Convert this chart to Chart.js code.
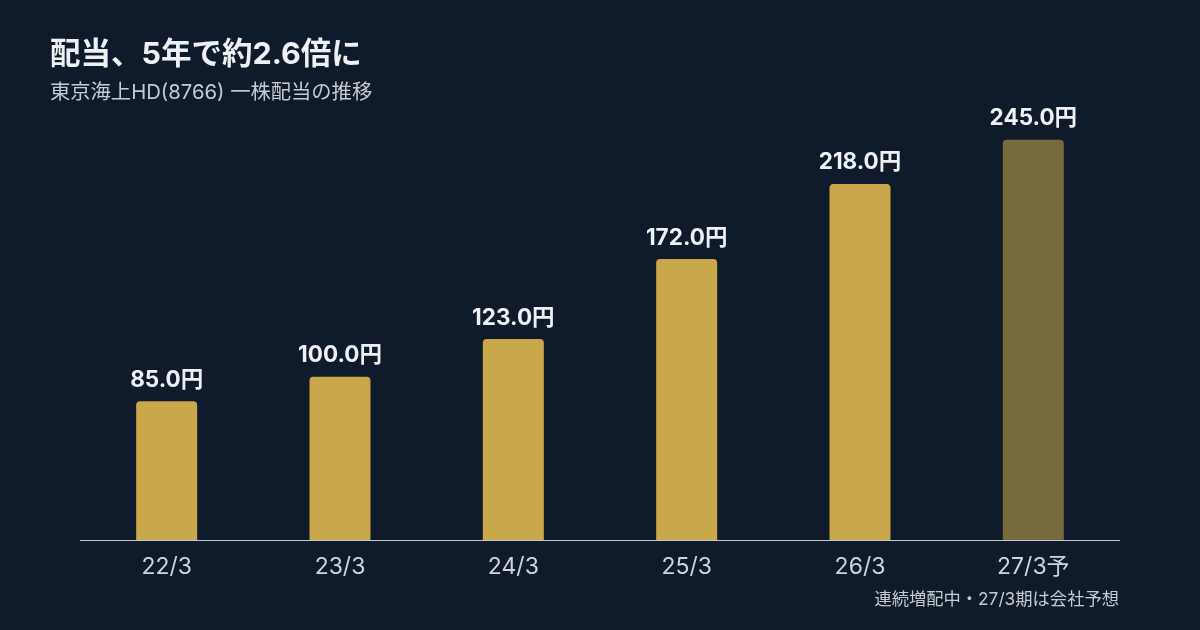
<!DOCTYPE html>
<html lang="ja">
<head>
<meta charset="utf-8">
<script src="https://cdn.jsdelivr.net/npm/chart.js@4.4.1/dist/chart.umd.min.js"></script>
<style>
  html, body { margin: 0; padding: 0; background: #0f1b2a; }
  body { width: 1200px; height: 630px; position: relative; overflow: hidden;
         font-family: Inter, "Noto Sans CJK JP", sans-serif; }
  #title { position: absolute; left: 50px; top: 33px; color: #eef0f3;
           font-size: 30.5px; font-weight: 700; line-height: 40px; }
  #subtitle { position: absolute; left: 50px; top: 79px; color: #c6cbd2;
              font-size: 20.3px; line-height: 26px; }
  #note { position: absolute; right: 81px; top: 588px; color: #c6cbd2;
          font-size: 17.3px; line-height: 22px; }
  #wrap { position: absolute; left: 0; top: 0; width: 1200px; height: 630px; }
</style>
</head>
<body>
<div id="wrap"><canvas id="divChart" width="1200" height="630"></canvas></div>
<div id="title">配当、5年で約2.6倍に</div>
<div id="subtitle">東京海上HD(8766) 一株配当の推移</div>
<div id="note">連続増配中・27/3期は会社予想</div>
<script>
// 決算期と一株配当（円）
const periods = ["22/3", "23/3", "24/3", "25/3", "26/3", "27/3予"];
const dividends = [85.0, 100.0, 123.0, 172.0, 218.0, 245.0];
const isForecast = [false, false, false, false, false, true];

const GOLD = "#c9a84c";
const GOLD_DIM = "#776a3c";
const FONT = "Inter, 'Noto Sans CJK JP', sans-serif";

// 棒の上に金額ラベル
const valueLabels = {
  id: "valueLabels",
  afterDatasetsDraw(chart) {
    const ctx = chart.ctx;
    const meta = chart.getDatasetMeta(0);
    ctx.save();
    ctx.fillStyle = "#eef0f3";
    ctx.font = "700 22.5px " + FONT;
    ctx.textAlign = "center";
    ctx.textBaseline = "bottom";
    meta.data.forEach((bar, i) => {
      ctx.fillText(dividends[i].toFixed(1) + "円", bar.x, bar.y - 10);
    });
    ctx.restore();
  }
};

// 横軸の基線
const baseLine = {
  id: "baseLine",
  afterDatasetsDraw(chart) {
    const { ctx, chartArea } = chart;
    const y = chart.scales.y.getPixelForValue(0);
    ctx.save();
    ctx.strokeStyle = "#c6cbd2";
    ctx.lineWidth = 1;
    ctx.beginPath();
    ctx.moveTo(chartArea.left, Math.round(y) + 0.5);
    ctx.lineTo(chartArea.right, Math.round(y) + 0.5);
    ctx.stroke();
    ctx.restore();
  }
};

new Chart(document.getElementById("divChart"), {
  type: "bar",
  data: {
    labels: periods,
    datasets: [{
      data: dividends,
      backgroundColor: isForecast.map(f => f ? GOLD_DIM : GOLD),
      borderRadius: { topLeft: 4, topRight: 4, bottomLeft: 0, bottomRight: 0 },
      borderSkipped: "bottom",
      categoryPercentage: 1.0,
      barPercentage: 0.352
    }]
  },
  options: {
    responsive: false,
    animation: false,
    devicePixelRatio: 1,
    layout: { padding: { left: 80, right: 80, top: 99, bottom: 0 } },
    plugins: { legend: { display: false }, tooltip: { enabled: false } },
    scales: {
      x: {
        grid: { display: false },
        border: { display: false },
        ticks: { color: "#d0d4da", font: { family: FONT, size: 23 }, padding: 5 },
        afterFit(scale) { scale.height = 90; }
      },
      y: {
        display: false,
        min: 0,
        max: 270
      }
    }
  },
  plugins: [valueLabels, baseLine]
});
</script>
</body>
</html>
